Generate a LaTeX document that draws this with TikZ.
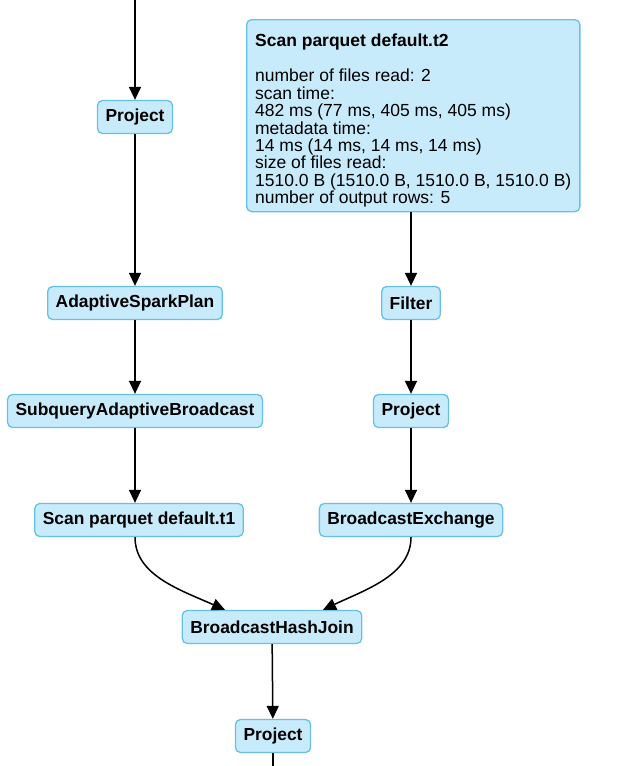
\documentclass[tikz,border=0pt]{standalone}
\usepackage{fontspec}
\setmainfont{Liberation Sans}
\usepackage{xcolor}
\usepackage{tikz}
\usetikzlibrary{arrows.meta}
\definecolor{opfill}{RGB}{200,235,251}
\definecolor{opline}{RGB}{102,192,232}

\begin{document}
\begin{tikzpicture}[
  x=1pt,y=-1pt,
  op/.style={draw=opline,fill=opfill,line width=1.3pt,rounded corners=5pt,
             minimum height=33pt,inner xsep=8pt,inner ysep=0pt,
             font=\fontsize{17.4}{17}\selectfont\bfseries},
  info/.style={op,align=left,anchor=north west,inner xsep=8.5pt,
               minimum height=192pt,font=\fontsize{17.5}{17.4}\selectfont},
  flow/.style={line width=1.5pt,-{Triangle[length=13pt,width=12pt]}},
]
\useasboundingbox (0,0) rectangle (619,766);
% ---- left branch ----
\coordinate (top) at (135,0);
\node[op] (projA) at (135,117) {Project};
\node[op] (asp)   at (135,303) {AdaptiveSparkPlan};
\node[op] (sab)   at (135,411) {SubqueryAdaptiveBroadcast};
\node[op] (scanA) at (139,520) {Scan parquet default.t1};
% ---- right branch ----
\node[info] (scanB) at (246,19) {\rule{0pt}{23pt}\textbf{Scan parquet default.t2}\\[17.6pt]
  number of files read: 2\\
  scan time:\\
  482 ms (77 ms, 405 ms, 405 ms)\\
  metadata time:\\
  14 ms (14 ms, 14 ms, 14 ms)\\
  size of files read:\\
  1510.0 B (1510.0 B, 1510.0 B, 1510.0 B)\\
  number of output rows: 5};
\node[op] (filt)  at (411,303) {Filter};
\node[op] (projB) at (411,411) {Project};
\node[op] (bex)   at (411,520) {BroadcastExchange};
% ---- join ----
\node[op] (bhj)   at (272,627) {BroadcastHashJoin};
\node[op] (projC) at (273,736) {Project};
\coordinate (bot) at (273,766);

\draw[flow] (top) -- (projA);
\draw[flow] (projA) -- (asp);
\draw[flow] (asp) -- (sab);
\draw[flow] ([xshift=-4pt]scanA.north |- sab.south) -- ([xshift=-4pt]scanA.north);
\draw[flow] (scanB.south -| filt.north) -- (filt);
\draw[flow] (filt) -- (projB);
\draw[flow] (projB) -- (bex);
\draw[flow] ([xshift=-4pt]scanA.south) .. controls +(0,38) and +(-45,-20) .. ([xshift=-47pt]bhj.north);
\draw[flow] (bex.south) .. controls +(0,38) and +(42,-20) .. ([xshift=51pt]bhj.north);
\draw[flow] (bhj) -- (projC);
\draw[line width=1.5pt] (projC) -- (bot);
\end{tikzpicture}
\end{document}
